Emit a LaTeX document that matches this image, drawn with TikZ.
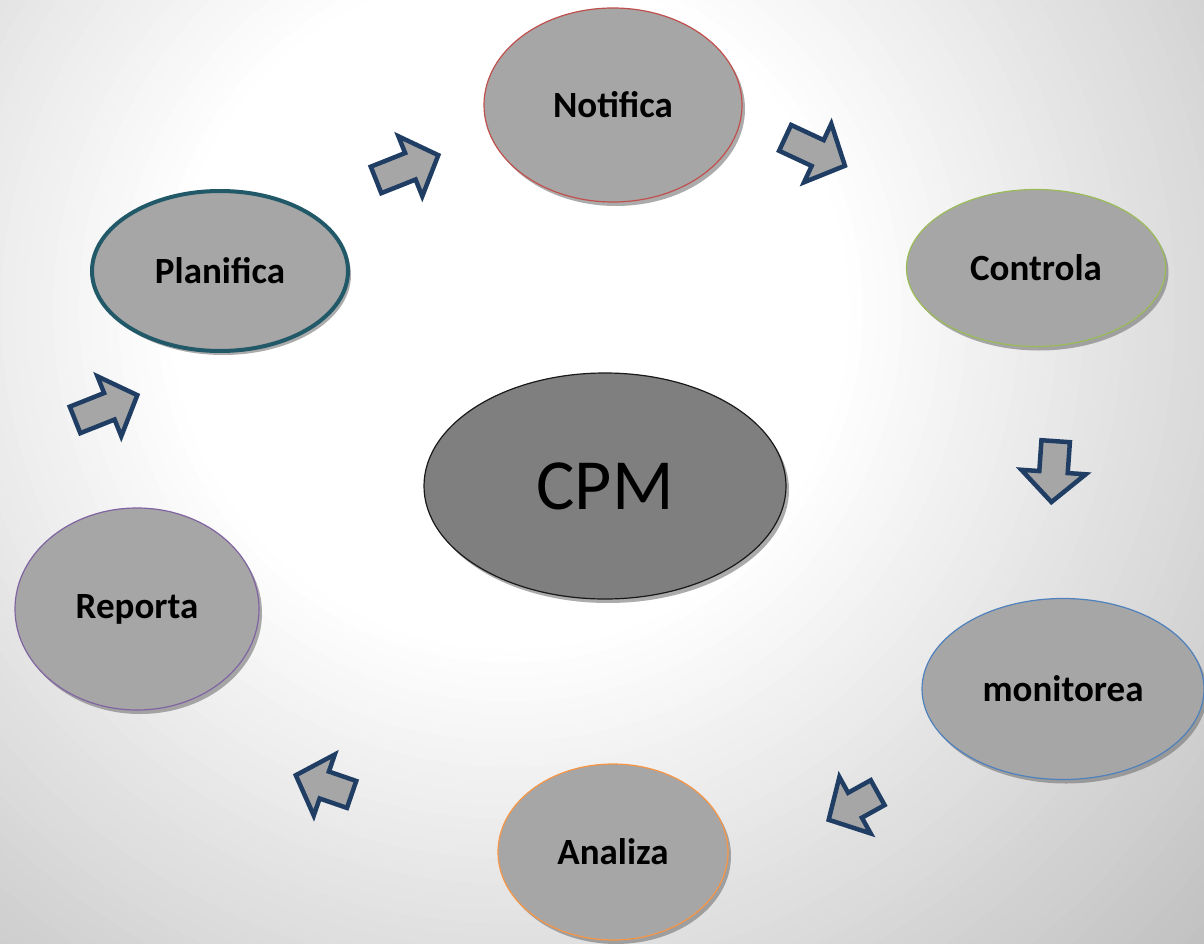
\documentclass[tikz,border=0pt]{standalone}
\usepackage{fontspec}
\setmainfont{Carlito}
\usetikzlibrary{shapes.geometric,shapes.arrows,shadows}

\definecolor{stagegray}{HTML}{A6A6A6}
\definecolor{coregray}{HTML}{7F7F7F}
\definecolor{flowblue}{HTML}{203D63}
\definecolor{plancol}{HTML}{215968}
\definecolor{notifcol}{HTML}{C0504D}
\definecolor{ctrlcol}{HTML}{9BBB59}
\definecolor{moncol}{HTML}{4F81BD}
\definecolor{anacol}{HTML}{F79646}
\definecolor{repcol}{HTML}{8064A2}
\definecolor{edgegray}{HTML}{BCBCBC}

\tikzset{
  stage/.style={ellipse,draw,fill=stagegray,inner sep=0pt,line width=1.2pt,
    font=\fontsize{37}{42}\selectfont\bfseries,
    drop shadow={shadow xshift=3pt,shadow yshift=-4pt,fill=black!55,opacity=.6}},
  flow/.style={single arrow,draw=flowblue,fill=stagegray,line width=4.5pt,
    inner xsep=0pt,inner ysep=12pt,minimum width=0pt,
    single arrow head extend=18pt,single arrow tip angle=94}
}

\begin{document}
\begin{tikzpicture}[x=1pt,y=-1pt]
\clip (0,0) rectangle (1204,944);
% soft glow: rings from grey edge to white centre
\foreach \i in {0,...,50} {
  \pgfmathtruncatemacro\p{100-2*\i}
  \fill[edgegray!\p!white] (510,310) circle (990-13*\i);
}

\node[stage,draw=coregray!20!black,fill=coregray,minimum width=362pt,minimum height=226pt,
  font=\fontsize{72}{80}\selectfont] (cpm) at (605,486) {CPM};

\node[stage,draw=plancol,line width=4pt,minimum width=256pt,minimum height=160pt] (plan) at (220,271) {Planifica};
\node[stage,draw=notifcol,minimum width=258pt,minimum height=194pt] (notif) at (613,105) {Notifica};
\node[stage,draw=ctrlcol,minimum width=259pt,minimum height=157pt] (ctrl) at (1036,268) {Controla};
\node[stage,draw=moncol,minimum width=282pt,minimum height=181pt] (mon) at (1063,689) {monitorea};
\node[stage,draw=anacol,minimum width=230pt,minimum height=176pt] (ana) at (613,852) {Analiza};
\node[stage,draw=repcol,minimum width=244pt,minimum height=202pt] (rep) at (137,609) {Reporta};

% block arrows round the cycle
\node[flow,minimum height=67pt,rotate=21.7] (f1) at (401,170) {};
\node[flow,minimum height=66pt,rotate=-25] (f2) at (809,149) {};
\node[flow,minimum height=61pt,rotate=-94] (f3) at (1054,465) {};
\node[flow,minimum height=56pt,rotate=209] (f4) at (859,803) {};
\node[flow,minimum height=59pt,rotate=161] (f5) at (330,787) {};
\node[flow,minimum height=67pt,rotate=21.7] (f6) at (100,410) {};
\end{tikzpicture}
\end{document}
